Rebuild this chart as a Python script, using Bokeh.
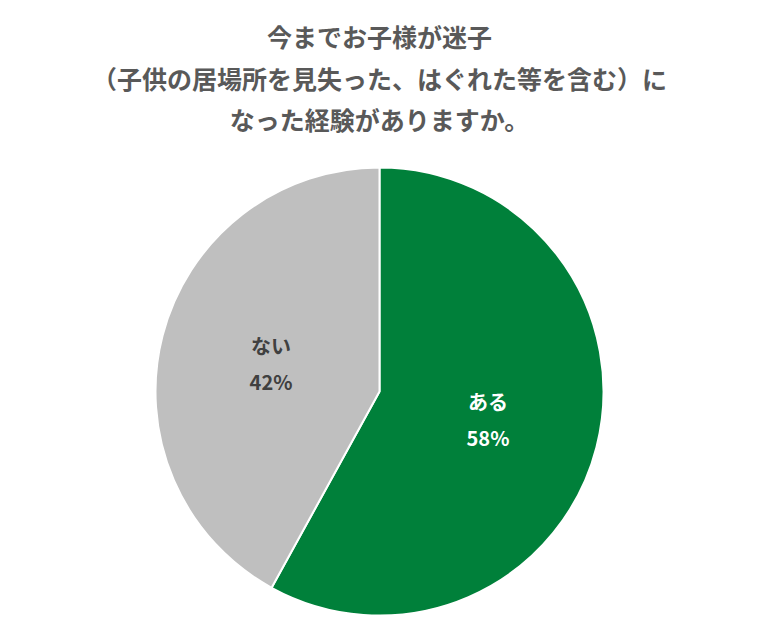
import math
from bokeh.plotting import figure
from bokeh.models import Range1d, ColumnDataSource
from bokeh.core.properties import value
from bokeh.embed import file_html
from bokeh.resources import INLINE

# Data
categories = ["ある", "ない"]
percents = [58, 42]
colors = ["#00803A", "#BFBFBF"]
label_colors = ["#FFFFFF", "#404040"]
title_lines = [
    "今までお子様が迷子",
    "（子供の居場所を見失った、はぐれた等を含む）に",
    "なった経験がありますか。",
]

W, H = 743, 623
p = figure(width=W, height=H, output_backend="svg", toolbar_location=None,
           x_range=Range1d(0, W), y_range=Range1d(0, H), min_border=0)
p.axis.visible = False
p.grid.visible = False
p.outline_line_color = None

cx, cy, R = 379, 232, 224
total = sum(percents)
starts, ends, mids = [], [], []
a = math.pi / 2
for v in percents:
    span = 2 * math.pi * v / total
    starts.append(a - span)
    ends.append(a)
    mids.append(a - span / 2)
    a -= span

src = ColumnDataSource(dict(start=starts, end=ends, color=colors))
p.wedge(x=cx, y=cy, radius=R, start_angle="start", end_angle="end",
        fill_color="color", line_color="white", line_width=2, source=src)

lx = [cx + 0.5 * R * math.cos(m) for m in mids]
ly = [cy + 0.5 * R * math.sin(m) for m in mids]
p.text(x=lx, y=[y + 18 for y in ly], text=categories, text_color=label_colors,
       text_font=value("Noto Sans CJK JP"), text_font_style="bold",
       text_font_size="20px", text_align="center", text_baseline="middle")
p.text(x=lx, y=[y - 18 for y in ly], text=[f"{v}%" for v in percents],
       text_color=label_colors, text_font=value("Noto Sans CJK JP"),
       text_font_style="bold", text_font_size="20px",
       text_align="center", text_baseline="middle")

p.text(x=[379, 379, 379], y=[588, 546, 505], text=title_lines,
       text_color="#595959", text_font=value("Noto Sans CJK JP"),
       text_font_style="bold", text_font_size="25px",
       text_align="center", text_baseline="middle")

open("out.html", "w").write(file_html(p, INLINE))
